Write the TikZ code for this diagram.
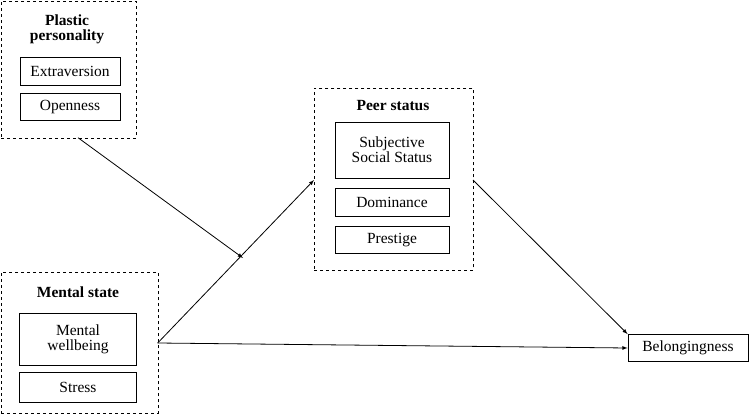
\documentclass[tikz,border=0pt]{standalone}
\usepackage{fontspec}
\setmainfont{Liberation Serif}
\usetikzlibrary{arrows}
\newcommand{\txtsize}{\fontsize{15.5}{18}\selectfont}
\tikzset{
  group/.style={draw,dashed,thick,anchor=north west,inner sep=0pt},
  item/.style={draw,thick,align=center,inner sep=1pt},
  title/.style={font=\txtsize\bfseries,align=center},
  link/.style={thick,-latex}
}
\begin{document}
\begin{tikzpicture}[x=1pt,y=-1pt,font=\txtsize]
\useasboundingbox (0,0) rectangle (750,415);
% groups
\node[group,minimum width=135pt,minimum height=137pt] (pp) at (0.7,0.7) {};
\node[group,minimum width=157pt,minimum height=141pt] (ms) at (0.7,272) {};
\node[group,minimum width=159pt,minimum height=182pt] (ps) at (314,88) {};
\node[title] at (67,29) {Plastic\\[-3pt]personality};
\node[title] at (78,292) {Mental state};
\node[title] at (393,106) {Peer status};
% items
\node[item,minimum width=100pt,minimum height=28pt] (ext) at (70,71) {Extraversion};
\node[item,minimum width=100pt,minimum height=27pt] (open) at (70,107) {Openness};
\node[item,minimum width=117pt,minimum height=52pt] (mwb) at (78,339) {Mental\\[-3pt]wellbeing};
\node[item,minimum width=117pt,minimum height=30pt] (stress) at (78,387) {Stress};
\node[item,minimum width=114pt,minimum height=56pt] (sss) at (392,150) {Subjective\\[-3pt]Social Status};
\node[item,minimum width=114pt,minimum height=28pt] (dom) at (392,202) {Dominance};
\node[item,minimum width=114pt,minimum height=27pt] (pres) at (392,240) {Prestige};
\node[item,minimum width=120pt,minimum height=27pt] (belong) at (688,348) {Belongingness};
% paths
\coordinate (mo) at (157.7,343);
\coordinate (mod) at (243,258);
\coordinate (pp-out) at (78,137.7);
\coordinate (ps-in) at (314,180);
\coordinate (ps-out) at (473,180);
\draw[link] (mo) -- (ps-in);
\draw[link] (pp-out) -- (mod);
\draw[link] (ps-out) -- (belong.north west);
\draw[link] (mo) -- (belong.west);
\end{tikzpicture}
\end{document}
